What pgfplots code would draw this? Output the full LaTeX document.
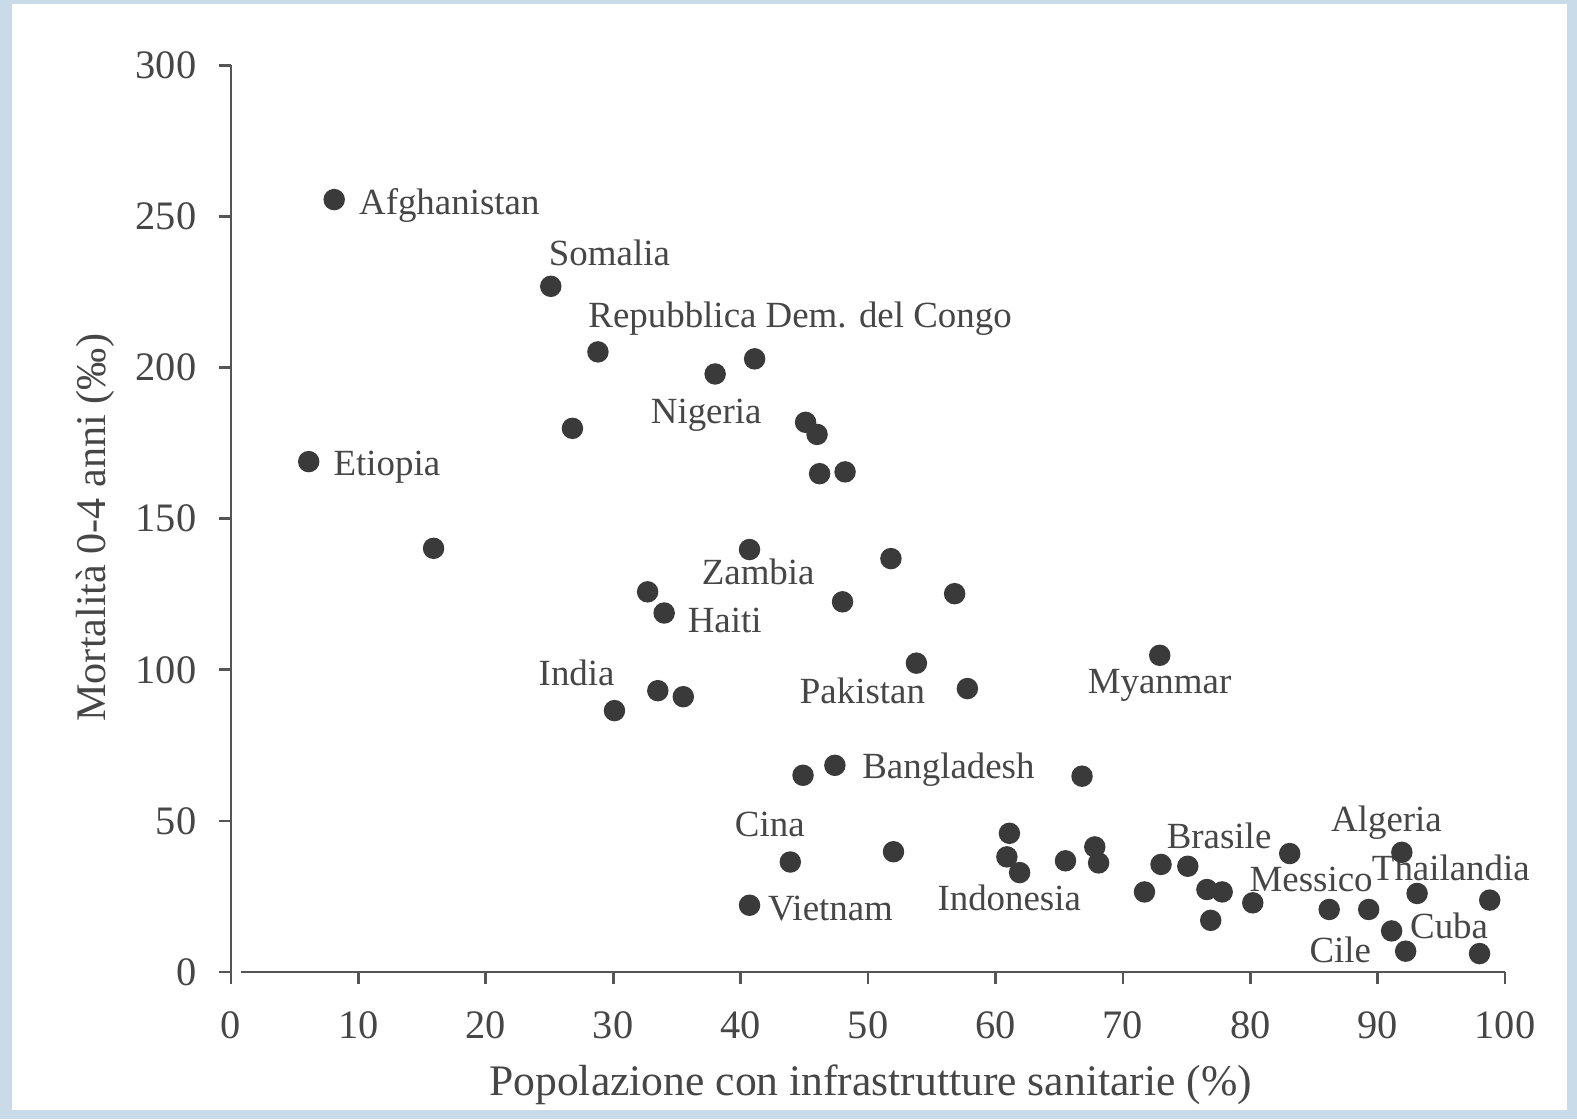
\documentclass[border=0pt]{standalone}
\usepackage{pgfplots}
\pgfplotsset{compat=1.18}
\usepackage{fontspec}
\setmainfont{Liberation Serif}

\definecolor{bgblue}{RGB}{201,219,233}
\definecolor{dotgray}{RGB}{58,58,58}
\definecolor{txtgray}{RGB}{70,70,70}
\definecolor{axgray}{RGB}{85,85,85}

\begin{document}
\begin{tikzpicture}
    % frame: light blue border round a white page
    \fill[bgblue] (-23.1mm,-14.7mm) rectangle (134.6mm,97.2mm);
    \fill[white] (-21.9mm,-13.8mm) rectangle (133.6mm,96.8mm);

    \begin{axis}[
            at={(0,0)}, anchor=south west,
            scale only axis,
            width=127.4mm, height=90.66mm,
            xmin=0, xmax=100, ymin=0, ymax=300,
            axis x line*=bottom, axis y line*=left,
            separate axis lines,
            x axis line style={shorten <=1mm},
            axis line style={draw=axgray, line width=0.75pt},
            tick style={draw=axgray, line width=0.75pt},
            tick align=outside,
            major tick length=1.2mm,
            xtick={0,10,...,100},
            ytick={0,50,...,300},
            /pgf/number format/assume math mode=true,
            tick label style={font=\fontsize{11.5}{13}\selectfont, text=txtgray, inner sep=0pt},
            xticklabel shift=2.7mm,
            yticklabel shift=2.2mm,
            xlabel={Popolazione con infrastrutture sanitarie (\%)},
            ylabel={Mortalità 0-4 anni (‰)},
            every axis x label/.style={at={(axis description cs:0.502,0)}, yshift=-11.3mm, anchor=center,
                    font=\fontsize{12.4}{14}\selectfont, text=txtgray},
            every axis y label/.style={at={(axis description cs:0,0.49)}, xshift=-13.6mm, rotate=90, anchor=center,
                    font=\fontsize{12}{14}\selectfont, text=txtgray},
            clip=false,
        ]

        \addplot[only marks, mark=*, mark size=2.85pt, mark options={fill=dotgray, draw=dotgray}]
        coordinates {
                (8.1,255.6) (6.1,168.9) (15.9,140.2) (25.1,226.9) (28.8,205.2)
                (26.8,179.9) (38.0,197.9) (41.1,202.9) (45.1,181.9) (46.0,177.9)
                (46.2,164.9) (48.2,165.5) (40.7,139.8) (51.8,136.8) (32.7,125.8)
                (34.0,118.8) (48.0,122.5) (56.8,125.2) (53.8,102.2) (57.8,93.8)
                (72.9,104.8) (33.5,93.1) (35.5,91.1) (30.1,86.5) (47.4,68.4)
                (44.9,65.1) (66.8,64.8) (43.9,36.4) (52.0,39.8) (40.7,22.1)
                (61.1,45.9) (60.9,38.1) (61.9,32.9) (65.5,36.8) (67.8,41.4)
                (68.1,36.1) (71.7,26.5) (73.0,35.6) (75.1,35.0) (76.6,27.3)
                (77.8,26.5) (76.9,17.1) (80.2,22.9) (83.1,39.2) (86.2,20.7)
                (89.3,20.7) (91.9,39.6) (93.1,26.0) (91.1,13.6) (92.2,6.9)
                (98.8,23.8) (98.0,6.1)
            };

        % country names
        \begin{scope}[every node/.style={font=\fontsize{10.5}{12}\selectfont, text=txtgray, inner sep=0pt, anchor=base west}]
            \node at (axis cs:10.0,250.6) {Afghanistan};
            \node at (axis cs:24.9,233.9) {Somalia};
            \node at (axis cs:28.0,213.2) {Repubblica Dem. del Congo};
            \node at (axis cs:8.0,164.2) {Etiopia};
            \node at (axis cs:32.9,181.5) {Nigeria};
            \node at (axis cs:36.9,128.2) {Zambia};
            \node at (axis cs:35.8,112.5) {Haiti};
            \node at (axis cs:24.1,94.8) {India};
            \node at (axis cs:44.6,88.8) {Pakistan};
            \node at (axis cs:67.2,92.1) {Myanmar};
            \node at (axis cs:49.5,64.1) {Bangladesh};
            \node at (axis cs:39.5,44.8) {Cina};
            \node at (axis cs:42.1,17.1) {Vietnam};
            \node at (axis cs:55.4,20.4) {Indonesia};
            \node at (axis cs:73.4,40.9) {Brasile};
            \node at (axis cs:86.3,46.4) {Algeria};
            \node at (axis cs:79.9,26.5) {Messico};
            \node at (axis cs:89.5,30.4) {Thailandia};
            \node at (axis cs:92.5,11.0) {Cuba};
            \node at (axis cs:84.6,3.3) {Cile};
        \end{scope}
    \end{axis}

    \pgfresetboundingbox
    \useasboundingbox (-23.1mm,-14.7mm) rectangle (134.6mm,97.2mm);
\end{tikzpicture}
\end{document}
